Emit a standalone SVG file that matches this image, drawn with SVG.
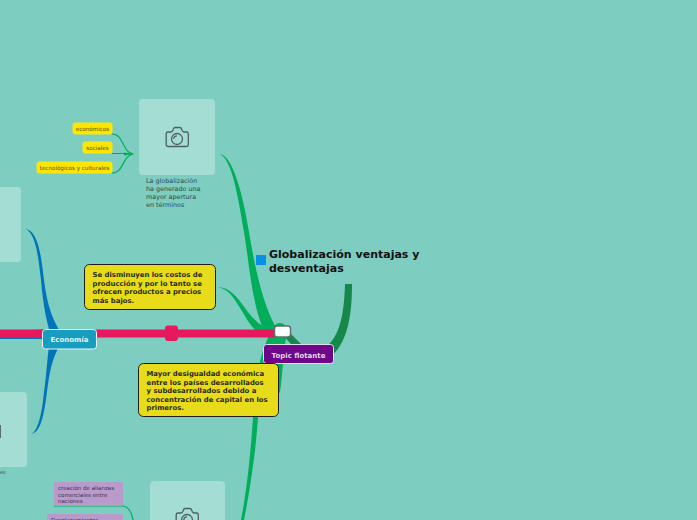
<svg xmlns="http://www.w3.org/2000/svg" width="697" height="520" viewBox="0 0 697 520">
<style>
text{font-family:"DejaVu Sans",sans-serif}
.ph{fill:#a4ddd3}
.cam{fill:none;stroke:#4e5f63;stroke-width:1.300}
.y{fill:#ffe600;stroke:#f7e814;stroke-width:1}
.yt{font-size:5.600px;fill:#4a4a10}
.p{fill:#b89bcb}
.pt{font-size:5.500px;fill:#3b3350}
.note{fill:#e8dc1a;stroke:#1c1c1c;stroke-width:1}
.nt{font-size:6.900px;font-weight:bold;fill:#2a2a10}
.it{font-size:6.400px;fill:#2f4a4c}
</style>
<defs>
<g id="camera">
<path class="cam" d="M167.500 132h3.500c1 0 1.500-.5 2-2 .5-1.800 1-2.500 2-2.500h5c1 0 1.500.7 2 2.500 .5 1.500 1 2 2 2h2.500c1.200 0 1.800 .6 1.800 1.800v10.900c0 1.200-.6 1.800-1.800 1.800h-18.500c-1.200 0-1.800-.6-1.800-1.800v-10.900c0-1.200 .6-1.800 1.800-1.800z"/>
<circle class="cam" cx="177" cy="139" r="5.500"/>
<path class="cam" d="M173.800 139a3.200 3.200 0 0 1 3.200-3.200"/>
</g>
</defs>
<rect width="697" height="520" fill="#7dcdc0"/>
<g id="connectors" fill="none">
<path d="M220 154C233 156 243 195 249 232C254 262 262 305 278 331L264 331C252 305 249 262 244 232C238 196 232 160 220 154Z" fill="#00ad59"/>
<path d="M217 287C230 287 237 297 245 308C252 318 260 326 272 331L256 331C250 325 246 318 242 311C234 299 230 289 217 287Z" fill="#00ad59"/>
<path d="M274 326C278 322 282 322 286 326L286 338C283 355 283 372 280 392L258 417C256 450 250 490 244 520H241C247 490 251 450 253 417C255 390 258 358 268 338Z" fill="#00ad59"/>
<path d="M284 336L290 333L303 346L296 350Z" fill="#15884a"/>
<path d="M345 284H352C352 320 346 345 330 357L322 350C338 340 344 320 345 284Z" fill="#15884a"/>
<path d="M26 229C38 231 41 255 44 280C47 305 53 322 62 334L52 338C47 325 43 305 41 280C38 255 36 235 26 229Z" fill="#0074b8"/>
<path d="M32 434C41 431 44 415 47 392C49 375 52 358 60 345L49 345C47 362 46 378 44 392C42 412 39 428 32 434Z" fill="#0074b8"/>
<path d="M0 331C20 331 35 330 50 329V339L0 339Z" fill="#0074b8"/>
<path d="M0 329.500H275V337.500H0Z" fill="#e8185e"/>
<path d="M112 134C124 134 122 152 133 154M112 173C124 173 122 156 133 154M112 153.500H133" stroke="#00ad59" stroke-width="1.200"/>
<path d="M124 152.500L135 154L124 155.500Z" fill="#00ad59"/>
<path d="M54 506H122C128 506 132 512 133 520" stroke="#00ad59" stroke-width="1.200"/>
</g>
<g id="main-topic">
<rect x="256" y="255" width="10" height="10" fill="#0a8fe8"/>
<text x="269" y="258" font-size="11px" font-weight="bold" fill="#111">Globalización ventajas y</text>
<text x="269" y="272" font-size="11px" font-weight="bold" fill="#111">desventajas</text>
</g>
<g id="center">
<rect x="274.500" y="326" width="16" height="11" rx="2.500" fill="#fff" stroke="#5f6f70" stroke-width="1.500"/>
</g>
<g id="node-pink"><rect x="165" y="325.500" width="13" height="15.500" rx="3" fill="#e8185e"/></g>
<g id="node-economia">
<rect x="42.500" y="329.500" width="54" height="19.500" rx="3" fill="#169dbf" stroke="#e8f4f6" stroke-width="1"/>
<text x="69.500" y="342" font-size="7px" font-weight="bold" fill="#e3f3f5" text-anchor="middle">Economía</text>
</g>
<g id="node-flotante">
<rect x="263.500" y="344.500" width="70" height="19" rx="3" fill="#6d0688" stroke="#e8def0" stroke-width="1"/>
<text x="298.500" y="357.500" font-size="7px" font-weight="bold" fill="#e6d8ee" text-anchor="middle">Topic flotante</text>
</g>
<g id="note-costos">
<rect x="84.500" y="264.500" width="131" height="45" rx="5" class="note"/>
<text class="nt" x="92.500" y="277">Se disminuyen los costos de</text>
<text class="nt" x="92.500" y="286">producción y por lo tanto se</text>
<text class="nt" x="92.500" y="294">ofrecen productos a precios</text>
<text class="nt" x="92.500" y="303">más bajos.</text>
</g>
<g id="note-desigualdad">
<rect x="138.500" y="363.500" width="140" height="53" rx="5" class="note"/>
<text class="nt" x="146.500" y="375.500">Mayor desigualdad económica</text>
<text class="nt" x="146.500" y="384.500">entre los países desarrollados</text>
<text class="nt" x="146.500" y="392.500">y subdesarrollados debido a</text>
<text class="nt" x="146.500" y="401.500">concentración de capital en los</text>
<text class="nt" x="146.500" y="409.500">primeros.</text>
</g>
<g id="image-top">
<rect x="139" y="99" width="76" height="76" rx="4" class="ph"/>
<use href="#camera"/>
<text class="it" x="146" y="183">La globalización</text>
<text class="it" x="146" y="191">ha generado una</text>
<text class="it" x="146" y="199">mayor apertura</text>
<text class="it" x="146" y="207">en términos</text>
</g>
<g id="tag-economicos"><rect x="73" y="123" width="39" height="11" rx="2" class="y"/><text class="yt" x="92.500" y="131" text-anchor="middle">económicos</text></g>
<g id="tag-sociales"><rect x="83" y="142" width="29" height="11" rx="2" class="y"/><text class="yt" x="97.500" y="150" text-anchor="middle">sociales</text></g>
<g id="tag-tecnologicos"><rect x="37" y="162" width="75" height="11" rx="2" class="y"/><text class="yt" x="74.500" y="170" text-anchor="middle">tecnológicos y culturales</text></g>
<g id="image-left-top"><rect x="-55" y="187" width="76" height="75" rx="4" class="ph"/></g>
<g id="image-left-bottom">
<rect x="-49" y="392" width="76" height="75" rx="4" class="ph"/>
<rect x="-2" y="425" width="3" height="13" fill="#5d6b70"/>
<text x="0" y="474" font-size="5px" fill="#2f4a4c">es</text>
</g>
<g id="image-bottom">
<rect x="150" y="481" width="75" height="60" rx="4" class="ph"/>
<use href="#camera" x="10" y="381"/>
</g>
<g id="tag-alianzas">
<rect x="54" y="482" width="69" height="24" rx="2" class="p"/>
<text class="pt" x="58" y="490">creación de alianzas</text>
<text class="pt" x="58" y="496.500">comerciales entre</text>
<text class="pt" x="58" y="503">naciones</text>
</g>
<g id="tag-desplazamientos">
<rect x="47" y="514" width="76" height="12" rx="2" class="p"/>
<text class="pt" x="51" y="522">Desplazamientos</text>
</g>
</svg>
